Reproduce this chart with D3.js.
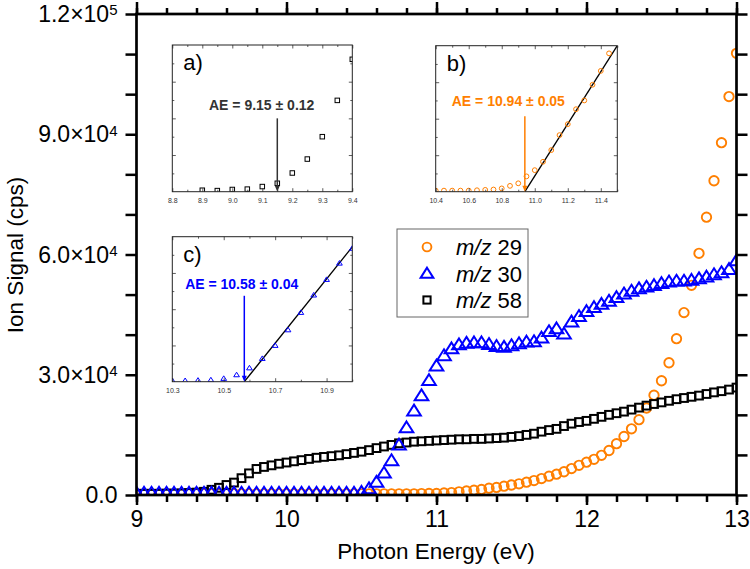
<!DOCTYPE html>
<html lang="en">
<head>
<meta charset="UTF-8">
<title>Ion signal vs photon energy</title>
<script src="https://cdnjs.cloudflare.com/ajax/libs/d3/7.8.5/d3.min.js"></script>
<style>
  body { margin: 0; background: #fff; }
  svg { font-family: "Liberation Sans", Arial, sans-serif; }
</style>
</head>
<body>
<div id="chart"></div>
<script>
// photon energy grid (eV)
var energy = [9.00, 9.05, 9.10, 9.15, 9.20, 9.25, 9.30, 9.35, 9.40, 9.45,
  9.50, 9.55, 9.60, 9.65, 9.70, 9.75, 9.80, 9.85, 9.90, 9.95,
  10.00, 10.05, 10.10, 10.15, 10.20, 10.25, 10.30, 10.35, 10.40, 10.45,
  10.50, 10.55, 10.60, 10.65, 10.70, 10.75, 10.80, 10.85, 10.90, 10.95,
  11.00, 11.05, 11.10, 11.15, 11.20, 11.25, 11.30, 11.35, 11.40, 11.45,
  11.50, 11.55, 11.60, 11.65, 11.70, 11.75, 11.80, 11.85, 11.90, 11.95,
  12.00, 12.05, 12.10, 12.15, 12.20, 12.25, 12.30, 12.35, 12.40, 12.45,
  12.50, 12.55, 12.60, 12.65, 12.70, 12.75, 12.80, 12.85, 12.90, 12.95, 13.00];

var mz29 = [300, 300, 300, 300, 300, 300, 300, 300, 300, 300,
  300, 300, 300, 300, 300, 300, 300, 300, 300, 300,
  300, 300, 300, 300, 300, 300, 300, 300, 300, 300,
  300, 300, 300, 300, 300, 300, 300, 300, 350, 400,
  400, 500, 600, 800, 1000, 1200, 1400, 1700, 1900, 2200,
  2500, 2800, 3200, 3600, 4100, 4700, 5200, 5800, 6600, 7400,
  8200, 8900, 9900, 11100, 12800, 14600, 16500, 18800, 21700, 24900,
  28500, 33000, 39000, 45500, 52300, 60300, 69300, 78400, 87900, 99400, 110200];

var mz30 = [500, 500, 500, 500, 500, 500, 500, 500, 500, 500,
  500, 500, 500, 500, 500, 500, 500, 500, 500, 500,
  500, 500, 500, 500, 500, 500, 500, 500, 500, 500,
  700, 1600, 3200, 5500, 8600, 12500, 16800, 21000, 24800, 28600,
  32200, 34800, 36500, 37500, 37900, 38000, 38000, 37600, 37100, 36900,
  37300, 37800, 38200, 38300, 39200, 40800, 41500, 40200, 43200, 44600,
  45800, 46800, 47600, 48400, 49300, 50200, 50900, 51500, 51900, 52300,
  52800, 53200, 53400, 53400, 53600, 54000, 54400, 55000, 55500, 56300, 58500];

var mz58 = [300, 300, 300, 300, 350, 350, 400, 500, 600, 800,
  1300, 1800, 2500, 3100, 4200, 5400, 6500, 7000, 7400, 7800,
  8100, 8400, 8700, 9000, 9300, 9500, 9700, 9900, 10200, 10500,
  10800, 11200, 11700, 12100, 12500, 12900, 13100, 13300, 13400, 13500,
  13600, 13700, 13800, 13900, 13900, 14000, 14000, 14100, 14200, 14300,
  14500, 14700, 15000, 15300, 15800, 16200, 16500, 17200, 17800, 18200,
  18500, 19000, 19500, 20000, 20400, 20800, 21300, 21800, 22300, 22700,
  23100, 23500, 23900, 24200, 24500, 24800, 25200, 25600, 25900, 26300, 26800];

// insets (threshold regions, arbitrary units)
var insetAx = [8.90, 8.95, 9.00, 9.05, 9.10, 9.15, 9.20, 9.25, 9.30, 9.35, 9.40];
var insetAy = [4, 3, 6, 7, 14, 23, 51, 89, 150, 249, 361];
var insetBx = [10.40, 10.45, 10.50, 10.55, 10.60, 10.65, 10.70, 10.75, 10.80, 10.85, 10.90,
  10.95, 11.00, 11.05, 11.10, 11.15, 11.20, 11.25, 11.30, 11.35, 11.40, 11.45];
var insetBy = [3, 3, 3, 3, 3, 4, 5, 6, 9, 16, 23, 42, 59, 82, 114, 155, 185, 226, 250, 293, 331, 379];
var insetCx = [10.30, 10.35, 10.40, 10.45, 10.50, 10.55, 10.60, 10.65, 10.70, 10.75,
  10.80, 10.85, 10.90, 10.95, 11.00];
var insetCy = [3, 3, 4, 5, 9, 19, 38, 64, 100, 143, 191, 239, 282, 327, 368];

var aeValues = [9.15, 10.94, 10.58];
var aeLabels = ["AE = 9.15 \u00b1 0.12", "AE = 10.94 \u00b1 0.05", "AE = 10.58 \u00b1 0.04"];
var fitB = [[10.94, 0], [11.5, 400]];
var fitC = [[10.58, 0], [11.0, 372]];

var xTicks = [9, 10, 11, 12, 13];
var yTicks = [0, 30000, 60000, 90000, 120000];
var yTickLabels = [["0.0", ""], ["3.0\u00d710", "4"], ["6.0\u00d710", "4"], ["9.0\u00d710", "4"], ["1.2\u00d710", "5"]];
var legendNames = ["29", "30", "58"];

var orange = "#ff7f00", blue = "#0000ff";

var W = 750, H = 569;
var svg = d3.select("#chart").append("svg")
    .attr("width", W)
    .attr("height", H);

var x = d3.scaleLinear().domain([9, 13]).range([136.5, 736.5]);
var y = d3.scaleLinear().domain([0, 120000]).range([495, 14]);

// marker shapes
function circle(sel, r, w, color) {
    sel.append("circle").attr("r", r).attr("fill", "none").attr("stroke", color).attr("stroke-width", w);
}
function square(sel, s, w, color) {
    sel.append("rect").attr("x", -s / 2).attr("y", -s / 2).attr("width", s).attr("height", s)
        .attr("fill", "none").attr("stroke", color).attr("stroke-width", w);
}
function triangle(sel, s, w, color) {
    sel.append("path").attr("d", "M0," + (-s) + "L" + (s * 1.1) + "," + (s * 0.75) + "L" + (-s * 1.1) + "," + (s * 0.75) + "Z")
        .attr("fill", "none").attr("stroke", color).attr("stroke-width", w);
}

// clip for main plot
svg.append("clipPath").attr("id", "mainClip")
    .append("rect").attr("x", 136.5).attr("y", 14).attr("width", 600).attr("height", 481);

var plot = svg.append("g").attr("clip-path", "url(#mainClip)");

function series(vals, drawFn) {
    plot.append("g").selectAll("g")
        .data(energy.map(function(e, i) { return [e, vals[i]]; }))
        .join("g")
        .attr("transform", function(d) { return "translate(" + x(d[0]) + "," + y(d[1]) + ")"; })
        .each(function() { drawFn(d3.select(this)); });
}

series(mz29, function(s) { circle(s, 4.7, 1.9, orange); });
series(mz58, function(s) { square(s, 7.8, 2, "#000"); });
series(mz30, function(s) { triangle(s, 6.2, 2, blue); });

// axes
var minorX = d3.range(9, 13.001, 0.2);
var minorY = d3.range(0, 120001, 10000);

function styleAxis(g) {
    g.select(".domain").remove();
    g.selectAll("line").attr("stroke", "#000").attr("stroke-width", 2.5);
    g.selectAll("text").attr("fill", "#000");
}

svg.append("g").attr("transform", "translate(0,495)")
    .call(d3.axisBottom(x).tickValues(minorX).tickSize(7).tickFormat(""))
    .call(styleAxis);
svg.append("g").attr("transform", "translate(0,495)")
    .call(d3.axisBottom(x).tickValues(xTicks).tickSize(10).tickPadding(6).tickFormat(d3.format("d")))
    .call(styleAxis)
    .selectAll("text").attr("font-size", 23).attr("font-family", "Liberation Sans, Arial, sans-serif");
svg.append("g").attr("transform", "translate(0,14)")
    .call(d3.axisTop(x).tickValues(minorX).tickSize(6).tickFormat(""))
    .call(styleAxis);
svg.append("g").attr("transform", "translate(0,14)")
    .call(d3.axisTop(x).tickValues(xTicks).tickSize(12).tickFormat(""))
    .call(styleAxis);
svg.append("g").attr("transform", "translate(136.5,0)")
    .call(d3.axisLeft(y).tickValues(minorY).tickSize(11).tickFormat(""))
    .call(styleAxis);
svg.append("g").attr("transform", "translate(736.5,0)")
    .call(d3.axisRight(y).tickValues(minorY).tickSize(11).tickFormat(""))
    .call(styleAxis);

// y tick labels with superscripts
var yl = svg.append("g").selectAll("text")
    .data(yTicks)
    .join("text")
    .attr("x", 136.5 - 19)
    .attr("y", function(d) { return y(d); })
    .attr("dy", "0.35em")
    .attr("text-anchor", "end")
    .attr("font-size", 23);
yl.append("tspan").text(function(d, i) { return yTickLabels[i][0]; });
yl.append("tspan").attr("dy", "-0.45em").attr("font-size", 15)
    .text(function(d, i) { return yTickLabels[i][1]; });

// frame
svg.append("rect")
    .attr("x", 136.5).attr("y", 14).attr("width", 600).attr("height", 481)
    .attr("fill", "none").attr("stroke", "#000").attr("stroke-width", 2.7);

// axis titles
svg.append("text")
    .attr("x", 436).attr("y", 559)
    .attr("text-anchor", "middle")
    .attr("font-size", 22.5)
    .text("Photon Energy (eV)");
svg.append("text")
    .attr("transform", "translate(23,255) rotate(-90)")
    .attr("text-anchor", "middle")
    .attr("font-size", 22.5)
    .text("Ion Signal (cps)");

// legend
var legend = svg.append("g");
legend.append("rect")
    .attr("x", 397).attr("y", 229).attr("width", 131).attr("height", 88)
    .attr("fill", "#fff").attr("stroke", "#666").attr("stroke-width", 1);
var legendDraw = [
    function(s) { circle(s, 4.4, 1.9, orange); },
    function(s) { triangle(s, 5.8, 2, blue); },
    function(s) { square(s, 7.2, 2, "#000"); }
];
legendNames.forEach(function(name, i) {
    var cy = 247 + i * 26.5;
    var mk = legend.append("g").attr("transform", "translate(427," + cy + ")");
    legendDraw[i](mk);
    var t = legend.append("text").attr("x", 456).attr("y", cy + 8).attr("font-size", 22);
    t.append("tspan").attr("font-style", "italic").text("m/z");
    t.append("tspan").text(" " + name);
});

// insets
function drawInset(o) {
    var g = svg.append("g");
    var ix = d3.scaleLinear().domain(o.xDomain).range([o.left, o.right]);
    var iy = d3.scaleLinear().domain([0, 400]).range([o.bottom, o.top]);
    var w = o.right - o.left, h = o.bottom - o.top;

    g.append("rect").attr("x", o.left).attr("y", o.top).attr("width", w).attr("height", h)
        .attr("fill", "#fff");

    g.append("clipPath").attr("id", o.id)
        .append("rect").attr("x", o.left).attr("y", o.top).attr("width", w).attr("height", h);
    var inner = g.append("g").attr("clip-path", "url(#" + o.id + ")");

    if (o.fit) {
        inner.append("line")
            .attr("x1", ix(o.fit[0][0])).attr("y1", iy(o.fit[0][1]))
            .attr("x2", ix(o.fit[1][0])).attr("y2", iy(o.fit[1][1]))
            .attr("stroke", "#000").attr("stroke-width", 1.3);
    }

    inner.selectAll("g.pt")
        .data(o.xs.map(function(v, i) { return [v, o.ys[i]]; }))
        .join("g")
        .attr("transform", function(d) { return "translate(" + ix(d[0]) + "," + iy(d[1]) + ")"; })
        .each(function() { o.marker(d3.select(this)); });

    // ticks (inward) and labels
    function st(a) {
        a.select(".domain").remove();
        a.selectAll("line").attr("stroke", "#333").attr("stroke-width", 0.8);
        a.selectAll("text").attr("fill", "#333").attr("font-size", 7);
    }
    g.append("g").attr("transform", "translate(0," + o.bottom + ")")
        .call(d3.axisBottom(ix).tickValues(o.minor).tickSize(-2).tickFormat("")).call(st);
    g.append("g").attr("transform", "translate(0," + o.bottom + ")")
        .call(d3.axisBottom(ix).tickValues(o.major).tickSize(-3.5).tickPadding(6).tickFormat(d3.format(".1f"))).call(st);
    g.append("g").attr("transform", "translate(0," + o.top + ")")
        .call(d3.axisTop(ix).tickValues(o.minor).tickSize(-2).tickFormat("")).call(st);
    g.append("g").attr("transform", "translate(0," + o.top + ")")
        .call(d3.axisTop(ix).tickValues(o.major).tickSize(-3.5).tickFormat("")).call(st);
    var ymin = [50, 150, 250, 350], ymaj = [100, 200, 300];
    g.append("g").attr("transform", "translate(" + o.left + ",0)")
        .call(d3.axisLeft(iy).tickValues(ymin).tickSize(-2).tickFormat("")).call(st);
    g.append("g").attr("transform", "translate(" + o.left + ",0)")
        .call(d3.axisLeft(iy).tickValues(ymaj).tickSize(-3.5).tickFormat("")).call(st);
    g.append("g").attr("transform", "translate(" + o.right + ",0)")
        .call(d3.axisRight(iy).tickValues(ymin).tickSize(-2).tickFormat("")).call(st);
    g.append("g").attr("transform", "translate(" + o.right + ",0)")
        .call(d3.axisRight(iy).tickValues(ymaj).tickSize(-3.5).tickFormat("")).call(st);

    g.append("rect").attr("x", o.left).attr("y", o.top).attr("width", w).attr("height", h)
        .attr("fill", "none").attr("stroke", "#222").attr("stroke-width", 1);

    // panel letter
    g.append("text").attr("x", o.left + 11).attr("y", o.top + 25)
        .attr("font-size", 22).text(o.letter);

    // AE annotation and arrow
    var ax = ix(o.ae);
    g.append("line").attr("x1", ax).attr("x2", ax)
        .attr("y1", iy(o.arrowTop)).attr("y2", o.bottom - 5)
        .attr("stroke", o.color).attr("stroke-width", 1.5);
    g.append("path")
        .attr("d", "M" + ax + "," + o.bottom + "L" + (ax - 2.5) + "," + (o.bottom - 6) + "L" + (ax + 2.5) + "," + (o.bottom - 6) + "Z")
        .attr("fill", o.color);
    g.append("text").attr("x", ix(o.textX)).attr("y", iy(o.textY))
        .attr("text-anchor", "middle").attr("font-size", 14).attr("font-weight", "bold")
        .attr("fill", o.color).text(o.label);
}

drawInset({
    id: "clipA", left: 172.3, right: 352.3, top: 45, bottom: 191.7,
    xDomain: [8.8, 9.4],
    major: [8.8, 8.9, 9.0, 9.1, 9.2, 9.3, 9.4],
    minor: [8.85, 8.95, 9.05, 9.15, 9.25, 9.35],
    xs: insetAx, ys: insetAy,
    marker: function(s) { square(s, 4.5, 1, "#000"); },
    fit: null, ae: aeValues[0], label: aeLabels[0], color: "#333",
    arrowTop: 200, textX: 9.098, textY: 222, letter: "a)"
});
drawInset({
    id: "clipB", left: 435.7, right: 617.3, top: 45.7, bottom: 191.7,
    xDomain: [10.4, 11.5],
    major: [10.4, 10.6, 10.8, 11.0, 11.2, 11.4],
    minor: [10.5, 10.7, 10.9, 11.1, 11.3, 11.5],
    xs: insetBx, ys: insetBy,
    marker: function(s) { circle(s, 2.4, 1, orange); },
    fit: fitB, ae: aeValues[1], label: aeLabels[1], color: orange,
    arrowTop: 207, textX: 10.84, textY: 234, letter: "b)"
});
drawInset({
    id: "clipC", left: 172.3, right: 352.3, top: 236.7, bottom: 381.7,
    xDomain: [10.3, 11.0],
    major: [10.3, 10.5, 10.7, 10.9],
    minor: [10.4, 10.6, 10.8, 11.0],
    xs: insetCx, ys: insetCy,
    marker: function(s) { triangle(s, 2.6, 1, blue); },
    fit: fitC, ae: aeValues[2], label: aeLabels[2], color: blue,
    arrowTop: 237, textX: 10.57, textY: 255, letter: "c)"
});
</script>
</body>
</html>
